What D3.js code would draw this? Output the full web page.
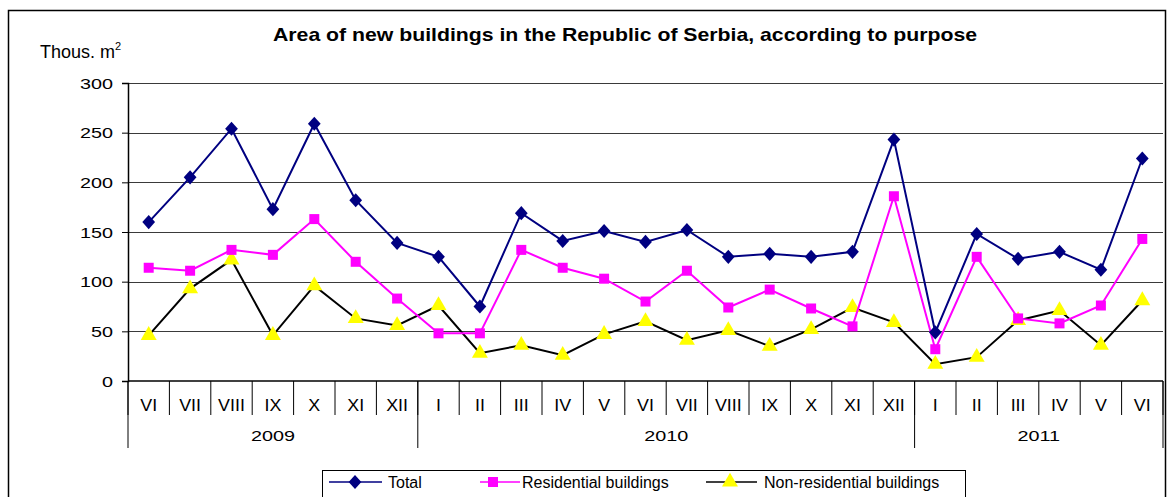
<!DOCTYPE html>
<meta charset="utf-8">
<style>
body { margin: 0; background: #fff; }
text { font-family: 'Liberation Sans', Arial, sans-serif; fill: #000; }
.title { font-size: 18px; font-weight: bold; }
.unit { font-size: 18px; }
.ytick { font-size: 15px; }
.month { font-size: 17px; }
.year { font-size: 15px; }
.legendText { font-size: 16px; }
.grid line { stroke: #3a3a3a; stroke-width: 1; }
</style>
<svg width="1168" height="497"></svg>
<script src="https://d3js.org/d3.v7.min.js"></script>
<script>

var months = ["VI","VII","VIII","IX","X","XI","XII",
              "I","II","III","IV","V","VI","VII","VIII","IX","X","XI","XII",
              "I","II","III","IV","V","VI"];
var years = ["2009", "2010", "2011"];
var monthsPerYear = [7, 12, 6];
var yTicks = [0, 50, 100, 150, 200, 250, 300];

var total = [160, 205, 254, 173, 259, 182, 139,
             125, 75, 169, 141, 151, 140, 152, 125, 128, 125, 130, 243,
             49, 148, 123, 130, 112, 224];
var residential = [114, 111, 132, 127, 163, 120, 83,
                   48, 48, 132, 114, 103, 80, 111, 74, 92, 73, 55, 186,
                   32, 125, 63, 58, 76, 143];
var nonResidential = [46, 93, 122, 46, 96, 63, 56,
                      76, 28, 36, 26, 47, 60, 41, 51, 35, 52, 74, 59,
                      17, 24, 61, 71, 36, 81];

var svg = d3.select("svg");
var plotLeft = 128, plotRight = 1163, plotTop = 83, plotBottom = 381;

var x = d3.scaleBand().domain(d3.range(months.length)).range([plotLeft, plotRight]);
var y = d3.scaleLinear().domain([0, 300]).range([plotBottom, plotTop]);
var xc = function(i) { return x(i) + x.bandwidth() / 2; };

// text in the original is stretched sideways, so scale it
function wideText(parent, cls, tx, ty, sx, anchor, str) {
  return parent.append("text")
      .attr("class", cls)
      .attr("transform", "translate(" + tx + "," + ty + ") scale(" + sx + ",1)")
      .attr("text-anchor", anchor)
      .text(str);
}

// outer frame
svg.append("path")
    .attr("d", "M8.5,500 V10.5 H1165.5 V500")
    .attr("fill", "none")
    .attr("stroke", "#000")
    .attr("stroke-width", 1.5);

wideText(svg, "title", 625, 41, 1.18, "middle",
    "Area of new buildings in the Republic of Serbia, according to purpose");

var unit = svg.append("text")
    .attr("class", "unit")
    .attr("x", 40)
    .attr("y", 58)
    .text("Thous. m");
unit.append("tspan")
    .attr("dy", -8)
    .style("font-size", "11px")
    .text("2");

// gridlines
svg.append("g")
    .attr("class", "grid")
  .selectAll("line")
  .data(yTicks.filter(function(d) { return d > 0; }))
  .enter().append("line")
    .attr("x1", plotLeft).attr("x2", plotRight)
    .attr("y1", function(d) { return Math.round(y(d)) + 0.5; })
    .attr("y2", function(d) { return Math.round(y(d)) + 0.5; });

// y axis
var yAxis = svg.append("g")
    .attr("class", "axis axis--y")
    .attr("transform", "translate(" + plotLeft + ",0)")
    .call(d3.axisLeft(y).tickValues(yTicks).tickSize(6).tickFormat(""));
yAxis.select(".domain").attr("stroke", "#000").attr("stroke-width", 1.5);
yAxis.selectAll(".tick line").attr("stroke", "#000");
yTicks.forEach(function(t) {
  wideText(svg, "ytick", 113, y(t) + 5.5, 1.32, "end", String(t));
});

// x axis line
svg.append("line")
    .attr("x1", plotLeft).attr("x2", plotRight)
    .attr("y1", plotBottom).attr("y2", plotBottom)
    .attr("stroke", "#000").attr("stroke-width", 1.5);

// month dividers and labels
var xAxisG = svg.append("g");
xAxisG.selectAll(".mdiv")
  .data(d3.range(months.length + 1))
  .enter().append("line")
    .attr("x1", function(i) { return i < months.length ? x(i) : plotRight; })
    .attr("x2", function(i) { return i < months.length ? x(i) : plotRight; })
    .attr("y1", plotBottom)
    .attr("y2", plotBottom + 34)
    .attr("stroke", "#000");
months.forEach(function(m, i) {
  wideText(xAxisG, "month", xc(i), plotBottom + 30, 1.05, "middle", m);
});

// year dividers and labels
var starts = [0];
monthsPerYear.forEach(function(n, i) { starts.push(starts[i] + n); });
xAxisG.selectAll(".ydiv")
  .data(starts)
  .enter().append("line")
    .attr("x1", function(i) { return i < months.length ? x(i) : plotRight; })
    .attr("x2", function(i) { return i < months.length ? x(i) : plotRight; })
    .attr("y1", plotBottom)
    .attr("y2", plotBottom + 67)
    .attr("stroke", "#000");
years.forEach(function(yr, i) {
  var a = x(starts[i]);
  var b = starts[i + 1] < months.length ? x(starts[i + 1]) : plotRight;
  wideText(xAxisG, "year", (a + b) / 2, plotBottom + 60, 1.32, "middle", yr);
});

var line = d3.line()
    .x(function(d, i) { return xc(i); })
    .y(function(d) { return y(d); });

var series = [
  {name: "Total", values: total, stroke: "#000080", marker: d3.symbolDiamond, size: 90, fill: "#000080"},
  {name: "Residential buildings", values: residential, stroke: "#ff00ff", marker: d3.symbolSquare, size: 100, fill: "#ff00ff"},
  {name: "Non-residential buildings", values: nonResidential, stroke: "#000", marker: d3.symbolTriangle, size: 110, fill: "#ffff00"}
];
var markerScale = function(s) { return s.marker === d3.symbolDiamond ? " scale(1.25,0.8)" : ""; };

// draw back to front like the original
series.slice().reverse().forEach(function(s) {
  var g = svg.append("g");
  g.append("path")
      .datum(s.values)
      .attr("fill", "none")
      .attr("stroke", s.stroke)
      .attr("stroke-width", 2)
      .attr("d", line);
  g.selectAll("path.mark")
    .data(s.values)
    .enter().append("path")
      .attr("class", "mark")
      .attr("transform", function(d, i) {
        return "translate(" + xc(i) + "," + y(d) + ")" + markerScale(s);
      })
      .attr("d", d3.symbol().type(s.marker).size(s.size))
      .attr("fill", s.fill);
});

// legend
var legend = svg.append("g");
legend.append("rect")
    .attr("x", 322.5).attr("y", 470.5)
    .attr("width", 643).attr("height", 40)
    .attr("fill", "#fff").attr("stroke", "#000");
var legendPos = [{x1: 329, x2: 382, mx: 355, tx: 388},
                 {x1: 480, x2: 520, mx: 493, tx: 522},
                 {x1: 706, x2: 757, mx: 730, tx: 764}];
series.forEach(function(s, i) {
  var p = legendPos[i], ly = 482;
  legend.append("line")
      .attr("x1", p.x1).attr("x2", p.x2)
      .attr("y1", ly).attr("y2", ly)
      .attr("stroke", s.stroke).attr("stroke-width", 1.5);
  legend.append("path")
      .attr("transform", "translate(" + p.mx + "," + ly + ")" + markerScale(s))
      .attr("d", d3.symbol().type(s.marker).size(s.size))
      .attr("fill", s.fill);
  legend.append("text")
      .attr("class", "legendText")
      .attr("x", p.tx)
      .attr("y", ly + 6)
      .text(s.name);
});

</script>
